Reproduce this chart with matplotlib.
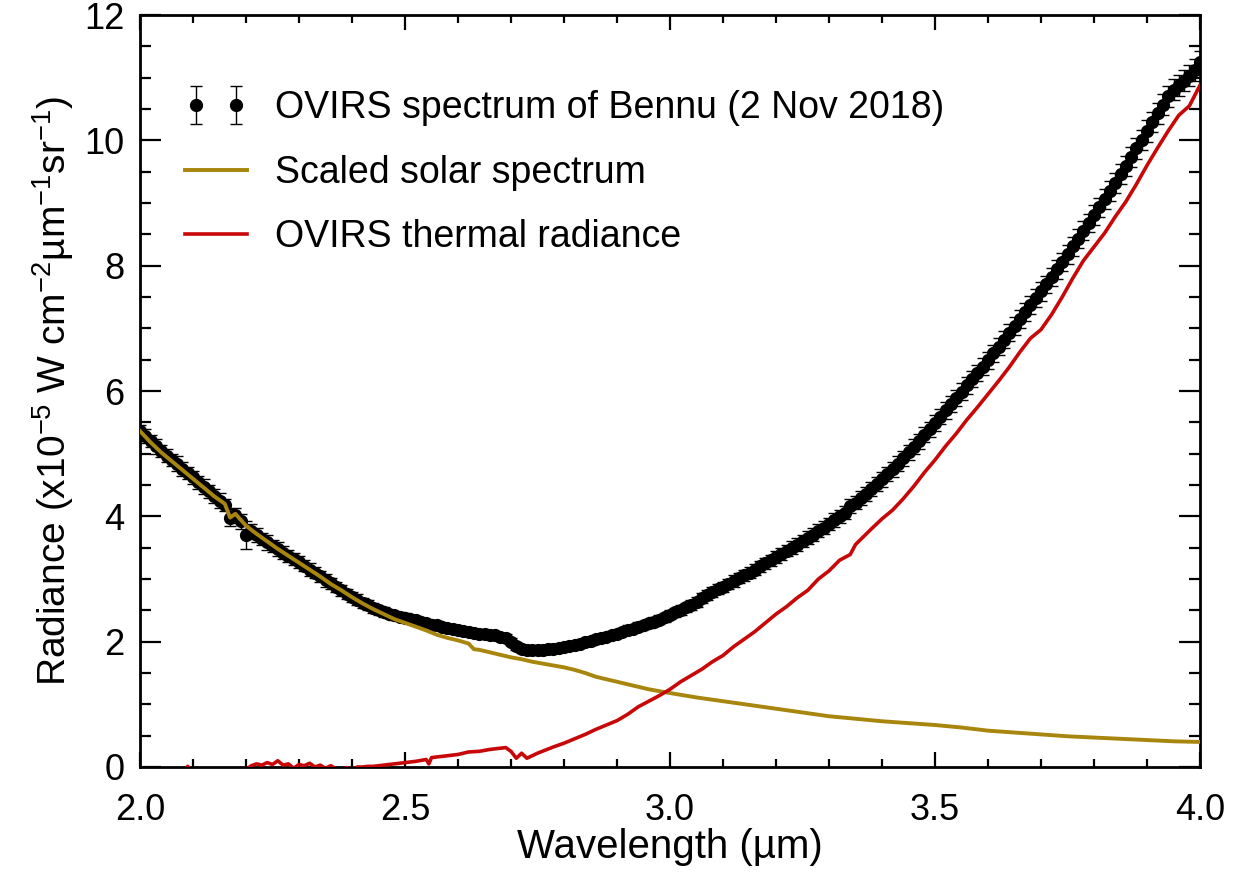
import matplotlib
matplotlib.use("Agg")
import matplotlib.pyplot as plt
from matplotlib.legend_handler import HandlerErrorbar
from matplotlib.ticker import MultipleLocator

# ---------------- data ----------------
black_x = [round(2.00 + 0.01 * i, 2) for i in range(201)]
black_y = [
    5.36, 5.28, 5.20, 5.12, 5.04, 4.97, 4.90, 4.84, 4.76, 4.69,   # 2.0x
    4.62, 4.54, 4.47, 4.40, 4.32, 4.25, 4.18, 3.98, 4.02, 3.92,   # 2.1x
    3.70, 3.76, 3.70, 3.64, 3.59, 3.53, 3.48, 3.42, 3.37, 3.32,   # 2.2x
    3.27, 3.21, 3.15, 3.10, 3.04, 2.98, 2.93, 2.88, 2.82, 2.76,   # 2.3x
    2.71, 2.67, 2.62, 2.58, 2.54, 2.50, 2.47, 2.44, 2.42, 2.40,   # 2.4x
    2.38, 2.36, 2.34, 2.32, 2.29, 2.27, 2.26, 2.24, 2.22, 2.20,   # 2.5x
    2.19, 2.17, 2.15, 2.14, 2.13, 2.12, 2.11, 2.10, 2.08, 2.06,   # 2.6x
    2.00, 1.93, 1.88, 1.86, 1.86, 1.86, 1.87, 1.88, 1.89, 1.90,   # 2.7x
    1.91, 1.93, 1.95, 1.97, 1.99, 2.01, 2.04, 2.06, 2.08, 2.11,   # 2.8x
    2.13, 2.16, 2.19, 2.21, 2.24, 2.27, 2.29, 2.32, 2.35, 2.39,   # 2.9x
    2.43, 2.47, 2.51, 2.55, 2.59, 2.64, 2.69, 2.74, 2.79, 2.84,   # 3.0x
    2.88, 2.92, 2.97, 3.01, 3.06, 3.10, 3.15, 3.20, 3.25, 3.30,   # 3.1x
    3.35, 3.40, 3.45, 3.50, 3.55, 3.61, 3.66, 3.71, 3.77, 3.82,   # 3.2x
    3.88, 3.94, 4.00, 4.06, 4.16, 4.22, 4.29, 4.36, 4.44, 4.51,   # 3.3x
    4.59, 4.67, 4.75, 4.84, 4.93, 5.02, 5.11, 5.20, 5.30, 5.39,   # 3.4x
    5.49, 5.59, 5.69, 5.79, 5.89, 5.99, 6.09, 6.19, 6.29, 6.39,   # 3.5x
    6.49, 6.60, 6.71, 6.82, 6.93, 7.04, 7.15, 7.26, 7.37, 7.48,   # 3.6x
    7.59, 7.70, 7.82, 7.94, 8.06, 8.18, 8.31, 8.43, 8.56, 8.68,   # 3.7x
    8.81, 8.93, 9.06, 9.19, 9.32, 9.46, 9.59, 9.73, 9.87, 10.01,  # 3.8x
    10.15, 10.29, 10.43, 10.57, 10.70, 10.81, 10.88, 10.95, 11.03, 11.12,  # 3.9x
    11.25,                                                          # 4.00
]
black_err = [
    0.10, 0.11, 0.10, 0.12, 0.10, 0.11, 0.10, 0.12, 0.11, 0.10,
    0.11, 0.10, 0.12, 0.10, 0.11, 0.12, 0.10, 0.14, 0.12, 0.12,
    0.22, 0.12, 0.11, 0.10, 0.12, 0.10, 0.11, 0.10, 0.10, 0.09,
    0.10, 0.09, 0.10, 0.09, 0.09, 0.10, 0.09, 0.08, 0.09, 0.08,
    0.08, 0.09, 0.08, 0.08, 0.08, 0.07, 0.08, 0.07, 0.07, 0.07,
    0.07, 0.07, 0.07, 0.06, 0.07, 0.06, 0.07, 0.06, 0.06, 0.06,
    0.06, 0.06, 0.06, 0.06, 0.06, 0.06, 0.06, 0.06, 0.06, 0.06,
    0.06, 0.06, 0.06, 0.06, 0.06, 0.06, 0.06, 0.06, 0.06, 0.06,
    0.06, 0.06, 0.06, 0.06, 0.06, 0.06, 0.06, 0.06, 0.06, 0.06,
    0.06, 0.06, 0.07, 0.06, 0.07, 0.06, 0.07, 0.07, 0.07, 0.07,
    0.07, 0.07, 0.08, 0.07, 0.08, 0.08, 0.08, 0.08, 0.08, 0.08,
    0.08, 0.08, 0.09, 0.08, 0.09, 0.09, 0.09, 0.09, 0.09, 0.09,
    0.09, 0.10, 0.09, 0.10, 0.10, 0.10, 0.10, 0.10, 0.10, 0.10,
    0.10, 0.11, 0.10, 0.11, 0.11, 0.11, 0.11, 0.11, 0.11, 0.11,
    0.12, 0.11, 0.12, 0.12, 0.12, 0.12, 0.12, 0.12, 0.12, 0.12,
    0.13, 0.12, 0.13, 0.13, 0.13, 0.13, 0.13, 0.13, 0.13, 0.13,
    0.14, 0.13, 0.14, 0.14, 0.14, 0.14, 0.14, 0.14, 0.14, 0.14,
    0.15, 0.14, 0.15, 0.15, 0.15, 0.15, 0.15, 0.15, 0.15, 0.15,
    0.16, 0.15, 0.16, 0.16, 0.16, 0.16, 0.16, 0.16, 0.16, 0.16,
    0.17, 0.16, 0.17, 0.17, 0.17, 0.17, 0.17, 0.17, 0.17, 0.17,
    0.17,
]

solar_x = [2.00, 2.02, 2.04, 2.06, 2.08, 2.10, 2.12, 2.14, 2.16, 2.17,
           2.18, 2.20, 2.22, 2.24, 2.26, 2.28, 2.30, 2.32, 2.34, 2.36,
           2.38, 2.40, 2.42, 2.44, 2.46, 2.48, 2.50, 2.52, 2.54, 2.56,
           2.58, 2.60, 2.62, 2.63, 2.64, 2.66, 2.68, 2.70, 2.72, 2.74,
           2.76, 2.78, 2.80, 2.82, 2.84, 2.86, 2.88, 2.90, 2.92, 2.94,
           2.96, 2.98, 3.00, 3.05, 3.10, 3.15, 3.20, 3.25, 3.30, 3.35,
           3.40, 3.45, 3.50, 3.55, 3.60, 3.65, 3.70, 3.75, 3.80, 3.85,
           3.90, 3.95, 4.00]
solar_y = [5.36, 5.18, 5.02, 4.88, 4.74, 4.60, 4.46, 4.32, 4.20, 3.98,
           4.04, 3.85, 3.72, 3.60, 3.48, 3.37, 3.26, 3.15, 3.04, 2.92,
           2.82, 2.71, 2.61, 2.52, 2.44, 2.36, 2.30, 2.24, 2.18, 2.11,
           2.06, 2.02, 1.97, 1.88, 1.87, 1.83, 1.79, 1.75, 1.72, 1.68,
           1.65, 1.62, 1.59, 1.55, 1.50, 1.44, 1.40, 1.36, 1.32, 1.28,
           1.24, 1.21, 1.18, 1.11, 1.05, 0.99, 0.93, 0.87, 0.81, 0.77,
           0.73, 0.70, 0.67, 0.63, 0.58, 0.55, 0.52, 0.49, 0.47, 0.45,
           0.43, 0.41, 0.40]

thermal_x = [2.00, 2.05, 2.08, 2.09, 2.10, 2.15, 2.20, 2.21, 2.22, 2.23,
             2.24, 2.25, 2.26, 2.27, 2.28, 2.29, 2.30, 2.31, 2.32, 2.33,
             2.34, 2.35, 2.36, 2.37, 2.38, 2.39, 2.40, 2.41, 2.42, 2.43,
             2.44, 2.45, 2.46, 2.47, 2.48, 2.50, 2.52, 2.54, 2.545, 2.55,
             2.57, 2.60, 2.62, 2.64, 2.66, 2.68, 2.69, 2.70, 2.71, 2.72,
             2.73, 2.75, 2.78, 2.80, 2.82, 2.84, 2.86, 2.88, 2.90, 2.92,
             2.94, 2.96, 2.98, 3.00, 3.02, 3.04, 3.06, 3.08, 3.10, 3.12,
             3.14, 3.16, 3.18, 3.20, 3.22, 3.24, 3.26, 3.28, 3.30, 3.32,
             3.34, 3.35, 3.38, 3.40, 3.42, 3.44, 3.46, 3.48, 3.50, 3.52,
             3.54, 3.56, 3.58, 3.60, 3.62, 3.64, 3.66, 3.68, 3.70, 3.72,
             3.74, 3.76, 3.78, 3.80, 3.82, 3.84, 3.86, 3.88, 3.90, 3.92,
             3.94, 3.96, 3.98, 4.00]
thermal_y = [-0.30, -0.20, -0.10, 0.01, -0.08, -0.10, -0.04, 0.02, 0.05, 0.03,
             0.07, 0.04, 0.10, 0.03, 0.05, -0.02, 0.04, 0.02, 0.06, 0.00,
             0.03, -0.02, 0.02, -0.03, -0.05, -0.01, -0.04, 0.00, 0.00, 0.01,
             0.01, 0.02, 0.03, 0.04, 0.05, 0.07, 0.09, 0.12, 0.05, 0.15,
             0.17, 0.20, 0.24, 0.25, 0.28, 0.30, 0.31, 0.25, 0.14, 0.22,
             0.14, 0.22, 0.32, 0.38, 0.45, 0.52, 0.60, 0.67, 0.74, 0.84,
             0.96, 1.05, 1.14, 1.24, 1.36, 1.46, 1.56, 1.68, 1.78, 1.92,
             2.04, 2.16, 2.30, 2.44, 2.56, 2.70, 2.82, 3.00, 3.13, 3.30,
             3.39, 3.55, 3.80, 3.96, 4.10, 4.28, 4.48, 4.70, 4.90, 5.12,
             5.32, 5.54, 5.74, 5.95, 6.16, 6.38, 6.62, 6.84, 6.98, 7.22,
             7.50, 7.80, 8.08, 8.30, 8.52, 8.78, 9.02, 9.30, 9.60, 9.88,
             10.15, 10.40, 10.55, 10.88]

x_ticks = [2.0, 2.5, 3.0, 3.5, 4.0]
y_ticks = [0, 2, 4, 6, 8, 10, 12]

label_black = "OVIRS spectrum of Bennu (2 Nov 2018)"
label_solar = "Scaled solar spectrum"
label_thermal = "OVIRS thermal radiance"

# ---------------- style ----------------
plt.rcParams['font.family'] = ['Liberation Sans', 'DejaVu Sans']
plt.rcParams['mathtext.fontset'] = 'custom'
plt.rcParams['mathtext.rm'] = 'Liberation Sans'
plt.rcParams['mathtext.it'] = 'Liberation Sans'
plt.rcParams['mathtext.default'] = 'regular'

GOLD = '#A8850C'
RED = '#C80808'

fig = plt.figure(figsize=(12.4, 8.76), dpi=100)
ax = fig.add_axes([140 / 1240, 1 - 767 / 876, 1060 / 1240, 752 / 876])

eb = ax.errorbar(black_x, black_y, yerr=black_err, fmt='o', color='black',
                 markersize=8.5, elinewidth=1.0, capsize=4, capthick=1.0,
                 zorder=2, label=label_black)
ln_solar, = ax.plot(solar_x, solar_y, color=GOLD, lw=2.8, zorder=3,
                    label=label_solar)
ln_therm, = ax.plot(thermal_x, thermal_y, color=RED, lw=2.6, zorder=3,
                    label=label_thermal)

ax.set_xlim(2.0, 4.0)
ax.set_ylim(0, 12)
ax.set_xticks(x_ticks)
ax.set_xticklabels(['%.1f' % v for v in x_ticks])
ax.set_yticks(y_ticks)
ax.xaxis.set_minor_locator(MultipleLocator(0.1))
ax.yaxis.set_minor_locator(MultipleLocator(0.5))

for s in ax.spines.values():
    s.set_linewidth(2.0)

ax.tick_params(axis='both', which='both', direction='in', top=True, right=True,
               width=1.6, labelsize=26)
ax.tick_params(axis='x', which='major', length=10.5, pad=19)
ax.tick_params(axis='x', which='minor', length=5.5)
ax.tick_params(axis='y', which='major', length=15, pad=11)
ax.tick_params(axis='y', which='minor', length=8)

ax.set_xlabel('Wavelength (µm)', fontsize=29, labelpad=0)
ax.set_ylabel(r'Radiance (x10$^{-5}$ W cm$^{-2}$µm$^{-1}$sr$^{-1}$)',
              fontsize=28, labelpad=6)

leg = ax.legend(handles=[eb, ln_solar, ln_therm],
                loc='upper left', bbox_to_anchor=(0.032, 0.90),
                borderaxespad=0, borderpad=0,
                frameon=False, fontsize=27, numpoints=2,
                handlelength=2.25, handletextpad=0.45, labelspacing=0.76,
                handler_map={type(eb): HandlerErrorbar(numpoints=2, marker_pad=0.6)})

fig.savefig('out.png', dpi=100)
